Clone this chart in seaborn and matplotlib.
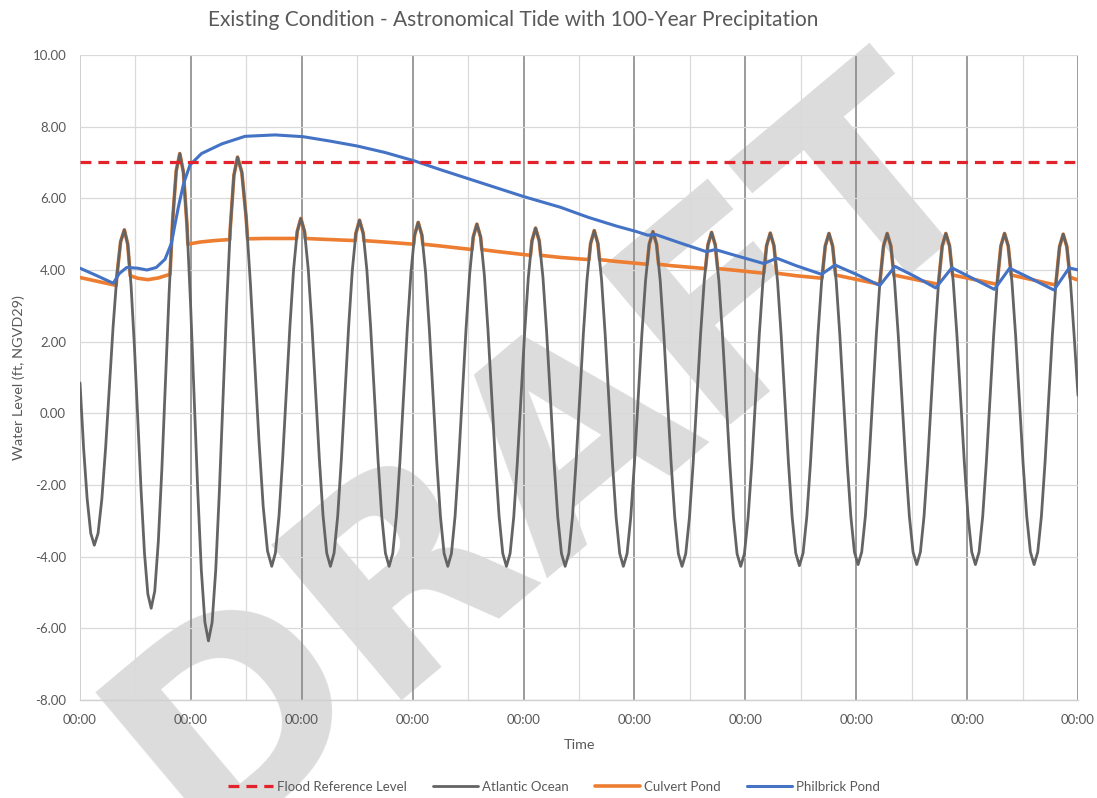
import matplotlib
matplotlib.use("Agg")
import matplotlib.pyplot as plt
import seaborn as sns
import pandas as pd
from matplotlib.ticker import FixedLocator, MultipleLocator, FuncFormatter

# ---------------- data (time in hours from start, level in ft NGVD29) ----------------
title = "Existing Condition - Astronomical Tide with 100-Year Precipitation"
series_names = ["Flood Reference Level", "Atlantic Ocean", "Culvert Pond", "Philbrick Pond"]
x_tick_hours = [0, 24, 48, 72, 96, 120, 144, 168, 192, 216]
x_tick_labels = ["00:00"] * 10
y_ticks = [-8, -6, -4, -2, 0, 2, 4, 6, 8, 10]

flood_t = [0, 216]
flood_v = [7.0, 7.0]

ocean_t = [0, 0.78, 1.55, 2.33,
           3.1, 3.91, 4.73, 5.54, 6.35, 7.16, 7.98, 8.79,
           9.6, 10.33, 11.05, 11.78, 12.5, 13.23, 13.95, 14.68,
           15.4, 16.18, 16.95, 17.73, 18.5, 19.28, 20.05, 20.83,
           21.6, 22.38, 23.15, 23.93, 24.7, 25.48, 26.25, 27.03,
           27.8, 28.59, 29.38, 30.16, 30.95, 31.74, 32.53, 33.31,
           34.1, 35.03, 35.95, 36.88, 37.8, 38.73, 39.65, 40.58,
           41.5, 42.29, 43.08, 43.86, 44.65, 45.44, 46.23, 47.01,
           47.8, 48.6, 49.4, 50.2, 51.0, 51.8, 52.6, 53.4,
           54.2, 54.99, 55.78, 56.56, 57.35, 58.14, 58.93, 59.71,
           60.5, 61.3, 62.1, 62.9, 63.7, 64.5, 65.3, 66.1,
           66.9, 67.69, 68.48, 69.26, 70.05, 70.84, 71.63, 72.41,
           73.2, 74.0, 74.8, 75.6, 76.4, 77.2, 78.0, 78.8,
           79.6, 80.39, 81.18, 81.96, 82.75, 83.54, 84.33, 85.11,
           85.9, 86.7, 87.5, 88.3, 89.1, 89.9, 90.7, 91.5,
           92.3, 93.09, 93.88, 94.66, 95.45, 96.24, 97.03, 97.81,
           98.6, 99.4, 100.2, 101.0, 101.8, 102.6, 103.4, 104.2,
           105.0, 105.79, 106.58, 107.36, 108.15, 108.94, 109.73, 110.51,
           111.3, 112.09, 112.88, 113.66, 114.45, 115.24, 116.03, 116.81,
           117.6, 118.4, 119.2, 120.0, 120.8, 121.6, 122.4, 123.2,
           124.0, 124.79, 125.58, 126.36, 127.15, 127.94, 128.73, 129.51,
           130.3, 131.1, 131.9, 132.7, 133.5, 134.3, 135.1, 135.9,
           136.7, 137.49, 138.28, 139.06, 139.85, 140.64, 141.43, 142.21,
           143.0, 143.8, 144.6, 145.4, 146.2, 147.0, 147.8, 148.6,
           149.4, 150.19, 150.98, 151.76, 152.55, 153.34, 154.13, 154.91,
           155.7, 156.5, 157.3, 158.1, 158.9, 159.7, 160.5, 161.3,
           162.1, 162.89, 163.68, 164.46, 165.25, 166.04, 166.83, 167.61,
           168.4, 169.19, 169.98, 170.76, 171.55, 172.34, 173.13, 173.91,
           174.7, 175.5, 176.3, 177.1, 177.9, 178.7, 179.5, 180.3,
           181.1, 181.89, 182.68, 183.46, 184.25, 185.04, 185.83, 186.61,
           187.4, 188.2, 189.0, 189.8, 190.6, 191.4, 192.2, 193.0,
           193.8, 194.59, 195.38, 196.16, 196.95, 197.74, 198.53, 199.31,
           200.1, 200.9, 201.7, 202.5, 203.3, 204.1, 204.9, 205.7,
           206.5, 207.29, 208.08, 208.86, 209.65, 210.44, 211.23, 212.01,
           212.8, 213.59, 214.38, 215.17, 216.0]
ocean_v = [0.85, -0.97, -2.39, -3.35,
           -3.68, -3.35, -2.39, -0.97, 0.72, 2.41, 3.83, 4.79,
           5.12, 4.72, 3.57, 1.86, -0.16, -2.18, -3.89, -5.04,
           -5.44, -4.96, -3.58, -1.52, 0.91, 3.34, 5.39, 6.77,
           7.25, 6.73, 5.26, 3.05, 0.45, -2.15, -4.36, -5.83,
           -6.35, -5.84, -4.37, -2.19, 0.40, 2.99, 5.17, 6.64,
           7.15, 6.72, 5.48, 3.63, 1.44, -0.75, -2.60, -3.84,
           -4.27, -3.90, -2.85, -1.27, 0.59, 2.44, 4.02, 5.07,
           5.44, 5.07, 4.02, 2.44, 0.59, -1.27, -2.85, -3.90,
           -4.27, -3.90, -2.86, -1.29, 0.56, 2.41, 3.98, 5.02,
           5.39, 5.02, 3.98, 2.41, 0.56, -1.29, -2.86, -3.90,
           -4.27, -3.91, -2.86, -1.31, 0.53, 2.37, 3.92, 4.97,
           5.33, 4.97, 3.92, 2.37, 0.53, -1.31, -2.86, -3.91,
           -4.27, -3.91, -2.87, -1.32, 0.51, 2.33, 3.88, 4.92,
           5.28, 4.92, 3.88, 2.33, 0.51, -1.32, -2.87, -3.91,
           -4.27, -3.91, -2.89, -1.36, 0.45, 2.26, 3.79, 4.81,
           5.17, 4.81, 3.79, 2.26, 0.45, -1.36, -2.89, -3.91,
           -4.27, -3.91, -2.90, -1.38, 0.42, 2.21, 3.73, 4.74,
           5.10, 4.74, 3.73, 2.21, 0.42, -1.38, -2.90, -3.91,
           -4.27, -3.92, -2.90, -1.39, 0.40, 2.19, 3.70, 4.72,
           5.07, 4.72, 3.70, 2.19, 0.40, -1.39, -2.90, -3.92,
           -4.27, -3.92, -2.91, -1.40, 0.39, 2.18, 3.69, 4.70,
           5.05, 4.70, 3.69, 2.18, 0.39, -1.40, -2.91, -3.92,
           -4.27, -3.92, -2.91, -1.40, 0.38, 2.16, 3.67, 4.68,
           5.03, 4.68, 3.67, 2.17, 0.39, -1.39, -2.89, -3.90,
           -4.25, -3.90, -2.89, -1.39, 0.39, 2.16, 3.66, 4.67,
           5.02, 4.67, 3.67, 2.17, 0.40, -1.37, -2.87, -3.87,
           -4.22, -3.87, -2.87, -1.37, 0.40, 2.17, 3.67, 4.67,
           5.02, 4.67, 3.67, 2.17, 0.40, -1.37, -2.87, -3.87,
           -4.22, -3.87, -2.87, -1.37, 0.40, 2.17, 3.67, 4.67,
           5.02, 4.67, 3.67, 2.17, 0.40, -1.37, -2.87, -3.87,
           -4.22, -3.87, -2.87, -1.37, 0.40, 2.17, 3.67, 4.67,
           5.02, 4.67, 3.67, 2.17, 0.40, -1.37, -2.87, -3.87,
           -4.22, -3.87, -2.87, -1.38, 0.39, 2.16, 3.65, 4.65,
           5.00, 4.65, 3.65, 2.16, 0.50]

culvert_t = [0, 7.83, 7.98, 8.79, 9.6, 10.33, 10.88, 12.5, 14.7, 17.0,
             19.48, 20.05, 20.83, 21.6, 22.38, 23.15, 23.34, 26.0, 29.0,
             32.41, 32.53, 33.31, 34.1, 35.03, 35.95, 36.26, 40.0, 44.0,
             46.87, 47.01, 47.8, 48.6, 48.74, 54.0,
             59.56, 59.71, 60.5, 61.3, 61.45, 66.0,
             72.22, 72.41, 73.2, 74.0, 74.19, 78.0,
             84.85, 85.11, 85.9, 86.7, 86.97, 90.0,
             97.50, 97.81, 98.6, 99.4, 99.71, 104.0,
             110.16, 110.51, 111.3, 112.09, 112.44, 116.0,
             122.76, 123.2, 124.0, 124.79, 125.22, 128.0,
             135.38, 135.9, 136.7, 137.49, 138.01, 142.0,
             147.99, 148.6, 149.4, 150.19, 150.79, 155.0,
             160.59, 161.3, 162.1, 162.89, 163.53,
             173.09, 173.91, 174.7, 175.5, 176.15,
             185.79, 186.61, 187.4, 188.2, 188.85,
             198.49, 199.31, 200.1, 200.9, 201.55,
             211.19, 212.01, 212.8, 213.59, 214.26, 216.0]
culvert_v = [3.79, 3.57, 3.83, 4.79, 5.12, 4.72, 3.84, 3.77, 3.73, 3.78,
             3.88, 5.39, 6.77, 7.25, 6.73, 5.26, 4.72, 4.78, 4.82,
             4.85, 5.17, 6.64, 7.15, 6.72, 5.48, 4.87, 4.88, 4.88,
             4.88, 5.07, 5.44, 5.07, 4.88, 4.85,
             4.82, 5.02, 5.39, 5.02, 4.82, 4.78,
             4.72, 4.97, 5.33, 4.97, 4.72, 4.67,
             4.57, 4.92, 5.28, 4.92, 4.57, 4.52,
             4.41, 4.81, 5.17, 4.81, 4.41, 4.35,
             4.29, 4.74, 5.10, 4.74, 4.29, 4.24,
             4.16, 4.72, 5.07, 4.72, 4.16, 4.12,
             4.04, 4.70, 5.05, 4.70, 4.04, 3.99,
             3.91, 4.68, 5.03, 4.68, 3.91, 3.84,
             3.77, 4.67, 5.02, 4.67, 3.86,
             3.60, 4.67, 5.02, 4.67, 3.86,
             3.60, 4.67, 5.02, 4.67, 3.86,
             3.60, 4.67, 5.02, 4.67, 3.86,
             3.58, 4.65, 5.00, 4.65, 3.80, 3.72]

phil_t = [0, 3.5, 7.2, 8.5, 10.1, 12.5, 14.5, 16.5, 18.4, 19.8, 20.6, 21.3, 22.4, 23.8, 26.3,
          30.7, 35.7, 42.2, 48.3, 54.0, 60.0, 66.0, 72.5, 78.0, 84.0, 90.0, 96.0, 104.0,
          110.0, 116.0, 120.5, 122.9, 124.6, 130.0, 135.6, 137.5, 142.0, 148.0, 150.8,
          155.0, 160.5, 163.4, 168.0, 173.1, 176.4, 181.0, 185.2, 188.7, 193.0, 197.9,
          201.2, 206.0, 210.8, 214.1, 216.0]
phil_v = [4.05, 3.85, 3.63, 3.90, 4.07, 4.05, 4.00, 4.07, 4.30, 4.75, 5.30, 5.76, 6.40, 6.93, 7.25,
          7.52, 7.73, 7.77, 7.72, 7.60, 7.46, 7.28, 7.04, 6.80, 6.55, 6.30, 6.05, 5.75,
          5.47, 5.23, 5.07, 4.97, 4.99, 4.75, 4.51, 4.57, 4.40, 4.18, 4.33,
          4.12, 3.88, 4.14, 3.88, 3.57, 4.10, 3.80, 3.50, 4.06, 3.78, 3.46,
          4.05, 3.75, 3.44, 4.06, 4.00]

colors = {"Flood Reference Level": "#E3232C", "Atlantic Ocean": "#646464",
          "Culvert Pond": "#ED7D31", "Philbrick Pond": "#4472C4"}

# ---------------- figure ----------------
sns.set_theme(style="white")
plt.rcParams['font.family'] = ['Lato', 'DejaVu Sans']
text_gray = "#595959"

fig = plt.figure(figsize=(10.97, 7.98), dpi=100)
ax = fig.add_axes([80 / 1097, 1 - 700 / 798, 998 / 1097, 645 / 798])
ax.set_facecolor("none")

# DRAFT watermark (behind the chart)
fig.text(0.50, 0.43, "DRAFT", rotation=40, fontsize=200, fontweight="bold",
         family="DejaVu Sans", color="#dcdcdc", ha="center", va="center", zorder=-5)

df_flood = pd.DataFrame({"time": flood_t, "level": flood_v})
df_ocean = pd.DataFrame({"time": ocean_t, "level": ocean_v})
df_culv = pd.DataFrame({"time": culvert_t, "level": culvert_v})
df_phil = pd.DataFrame({"time": phil_t, "level": phil_v})

sns.lineplot(data=df_culv, x="time", y="level", color=colors["Culvert Pond"], lw=2.6,
             estimator=None, sort=False, ax=ax, label="Culvert Pond", zorder=3)
sns.lineplot(data=df_ocean, x="time", y="level", color=colors["Atlantic Ocean"], lw=2.0,
             estimator=None, sort=False, ax=ax, label="Atlantic Ocean", zorder=4)
sns.lineplot(data=df_phil, x="time", y="level", color=colors["Philbrick Pond"], lw=2.2,
             estimator=None, sort=False, ax=ax, label="Philbrick Pond", zorder=5)
sns.lineplot(data=df_flood, x="time", y="level", color=colors["Flood Reference Level"], lw=2.3,
             estimator=None, sort=False, ax=ax, label="Flood Reference Level", zorder=6)
for ln in ax.get_lines():
    if ln.get_label() == "Flood Reference Level":
        ln.set_dashes((3.4, 2.2))

ax.set_xlim(0, 216)
ax.set_ylim(-8, 10)
ax.xaxis.set_major_locator(FixedLocator(x_tick_hours))
ax.xaxis.set_minor_locator(MultipleLocator(12))
ax.set_xticklabels(x_tick_labels)
ax.yaxis.set_major_locator(FixedLocator(y_ticks))
ax.yaxis.set_major_formatter(FuncFormatter(lambda v, p: f"{v:.2f}"))

ax.grid(which="major", axis="y", color="#d9d9d9", lw=0.9)
ax.grid(which="minor", axis="x", color="#dadada", lw=0.9)
ax.grid(which="major", axis="x", color="#8a8a8a", lw=1.2)
ax.set_axisbelow(True)
ax.get_xgridlines()[0].set_color("#c8c8c8")

for s in ["top", "right", "left"]:
    ax.spines[s].set_visible(False)
ax.spines["bottom"].set_color("#d0d0d0")
ax.spines["bottom"].set_linewidth(1.0)

ax.tick_params(axis="both", which="both", length=0, labelsize=9.5, colors=text_gray)
ax.tick_params(axis="y", pad=10)
ax.tick_params(axis="x", pad=10)

ax.set_ylabel("Water Level (ft, NGVD29)", fontsize=10.4, color=text_gray, va="center")
ax.yaxis.set_label_coords((19 - 80) / 998, 0.5)
ax.set_xlabel("Time", fontsize=10.4, color=text_gray, va="center")
ax.xaxis.set_label_coords(0.5, -(745 - 700) / 645)

fig.text(513 / 1097, 1 - 20 / 798, title, ha="center", va="center", fontsize=15, color=text_gray)

handles = {ln.get_label(): ln for ln in ax.get_lines()}
leg_handles = [handles[n] for n in series_names]
if ax.get_legend():
    ax.get_legend().remove()
leg = fig.legend(leg_handles, series_names, loc="center", bbox_to_anchor=(554 / 1097, 1 - 787 / 798),
                 ncol=4, frameon=False, fontsize=9.5, handlelength=3.4, columnspacing=2.0,
                 handletextpad=0.3)
for t in leg.get_texts():
    t.set_color(text_gray)

fig.savefig("out.png", dpi=100)
